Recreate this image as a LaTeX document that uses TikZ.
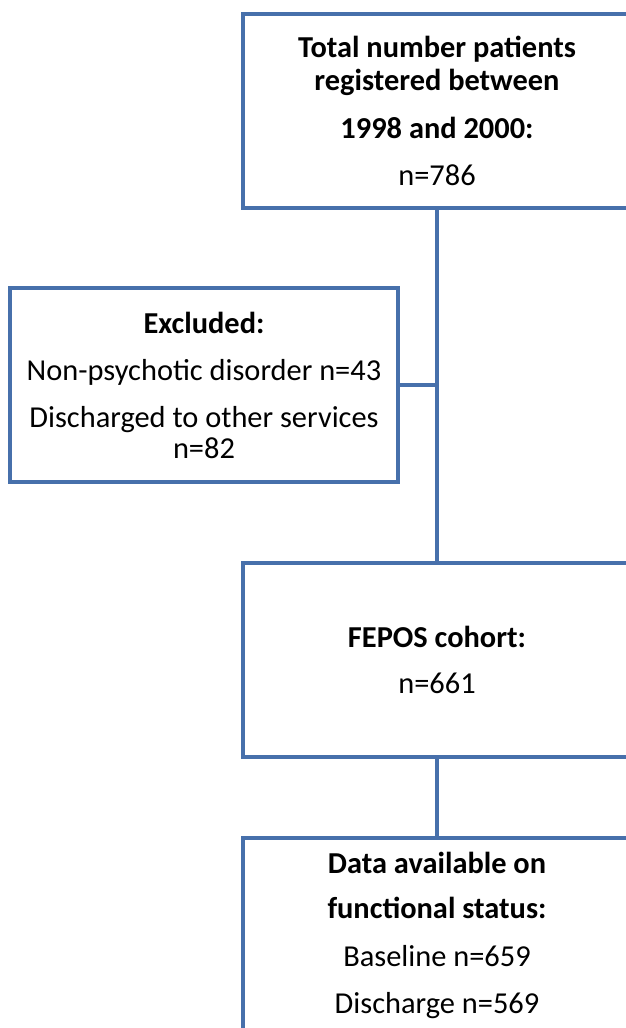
\documentclass[tikz,border=0pt]{standalone}
\usepackage{fontspec}
\setmainfont{Carlito}
\definecolor{boxblue}{RGB}{71,112,171}
\begin{document}
\begin{tikzpicture}[x=1pt,y=-1pt,
  flowbox/.style={draw=boxblue, line width=4pt, rectangle, minimum width=388pt, minimum height=194pt,
     align=center, inner sep=0pt, font=\fontsize{30.4}{33}\selectfont},
  link/.style={draw=boxblue, line width=4pt}]
\useasboundingbox (0,0) rectangle (625,1028);
\node[flowbox] (total) at (437,111) {\textbf{Total number patients}\\\textbf{registered between}\\[15pt]\textbf{1998 and 2000:}\\[14pt]n=786};
\node[flowbox] (excl) at (204,385) {\textbf{Excluded:}\\[14pt]Non-psychotic disorder n=43\\[14pt]Discharged to other services\\[-2pt]n=82};
\node[flowbox] (cohort) at (437,660) {\textbf{FEPOS cohort:}\\[13pt]n=661};
\node[flowbox] (data) at (437,935) {\textbf{Data available on}\\[12pt]\textbf{functional status:}\\[15pt]Baseline n=659\\[14pt]Discharge n=569};
\draw[link] (total.south) -- (cohort.north);
\draw[link] (excl.east) -- (excl.east -| total.south);
\draw[link] (cohort.south) -- (data.north);
\end{tikzpicture}
\end{document}
